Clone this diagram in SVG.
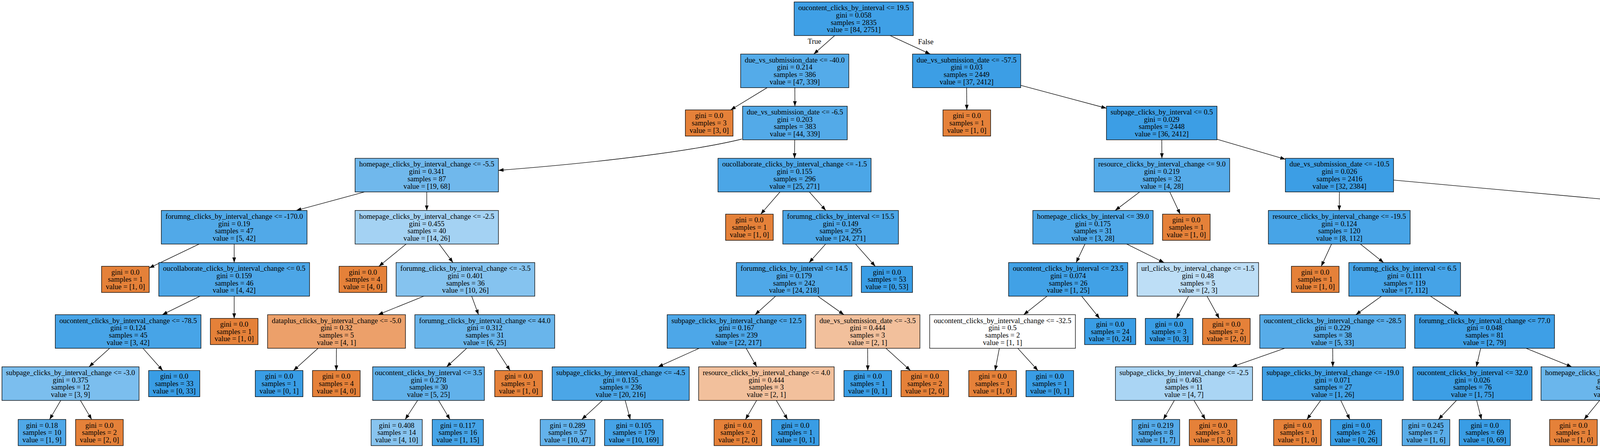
<svg xmlns="http://www.w3.org/2000/svg" width="6463" height="1144" viewBox="0 0 6463 1144">
<style>
.nd rect{stroke:#000;stroke-width:1.33}
text{font-family:"Liberation Serif","Times New Roman",serif;font-size:18.67px;text-anchor:middle;fill:#000}
.o{fill:#e58139}.b{fill:#399de5}
.e{stroke:#000;stroke-width:1.33;fill:none;marker-end:url(#ah)}
</style>
<defs><marker id="ah" markerUnits="userSpaceOnUse" viewBox="0 0 13 9.4" refX="13" refY="4.7" markerWidth="13" markerHeight="9.4" orient="auto"><path d="M0,0 L13,4.7 L0,9.4 z" fill="#000"/></marker></defs>
<rect width="6463" height="1144" fill="#fff"/>
<g id="connectors">
<line class="e" x1="2136.8" y1="91" x2="2083.2" y2="138.4"/>
<line class="e" x1="2278.6" y1="91" x2="2381.4" y2="138.4"/>
<line class="e" x1="1963.9" y1="224.4" x2="1870.5" y2="281.3"/>
<line class="e" x1="2034.7" y1="224.4" x2="2035" y2="271.8"/>
<line class="e" x1="2474.5" y1="224.4" x2="2475" y2="281.3"/>
<line class="e" x1="2613" y1="218.4" x2="2832.5" y2="277"/>
<path class="e" d="M1899,356 C1780,385 1550,415 1276,436"/>
<line class="e" x1="2034.5" y1="357.8" x2="2034" y2="405.2"/>
<line class="e" x1="2974.2" y1="357.8" x2="2974.5" y2="405.2"/>
<line class="e" x1="3115.5" y1="356.3" x2="3290.5" y2="407.6"/>
<line class="e" x1="933.6" y1="491.2" x2="758.4" y2="538.6"/>
<line class="e" x1="1092.5" y1="491.2" x2="1092.5" y2="538.6"/>
<line class="e" x1="1996.8" y1="491.2" x2="1947.5" y2="548.1"/>
<line class="e" x1="2072" y1="491.2" x2="2114" y2="538.6"/>
<line class="e" x1="2917.6" y1="491.2" x2="2854.9" y2="538.6"/>
<line class="e" x1="2994.6" y1="491.2" x2="3021.3" y2="548.1"/>
<line class="e" x1="3428.8" y1="491.2" x2="3428.5" y2="538.6"/>
<line class="e" x1="3567.5" y1="460.8" x2="4750" y2="568.6"/>
<line class="e" x1="509.7" y1="624.6" x2="382" y2="685.8"/>
<line class="e" x1="599.5" y1="624.6" x2="599.5" y2="672"/>
<line class="e" x1="1039.8" y1="624.6" x2="970" y2="681.5"/>
<line class="e" x1="1124.4" y1="624.6" x2="1159.6" y2="672"/>
<line class="e" x1="2113.6" y1="624.6" x2="2071.4" y2="672"/>
<line class="e" x1="2190.2" y1="624.6" x2="2240.7" y2="681.5"/>
<line class="e" x1="2777.5" y1="624.6" x2="2755" y2="672"/>
<line class="e" x1="2884.5" y1="624.6" x2="2980" y2="672"/>
<line class="e" x1="3408.7" y1="624.6" x2="3382.4" y2="681.5"/>
<line class="e" x1="3482.5" y1="624.6" x2="3542" y2="672"/>
<line class="e" x1="4891.7" y1="624.6" x2="4891.5" y2="672"/>
<line class="e" x1="5034" y1="603.8" x2="5610" y2="694"/>
<line class="e" x1="512" y1="758" x2="415.5" y2="805.4"/>
<line class="e" x1="599.5" y1="758" x2="599.5" y2="814.9"/>
<line class="e" x1="1085.1" y1="758" x2="967.9" y2="805.4"/>
<line class="e" x1="1207.5" y1="758" x2="1225" y2="805.4"/>
<line class="e" x1="1985.5" y1="758" x2="1933" y2="805.4"/>
<line class="e" x1="2093.6" y1="758" x2="2160.4" y2="805.4"/>
<line class="e" x1="2680.4" y1="758" x2="2620.6" y2="805.4"/>
<line class="e" x1="2769.1" y1="758" x2="2815" y2="814.9"/>
<line class="e" x1="3042.8" y1="758" x2="3011.5" y2="814.9"/>
<line class="e" x1="3090" y1="758" x2="3121.2" y2="814.9"/>
<line class="e" x1="3536.5" y1="758" x2="3471" y2="805.4"/>
<line class="e" x1="3661.9" y1="758" x2="3734.6" y2="805.4"/>
<line class="e" x1="4837.5" y1="758" x2="4778" y2="805.4"/>
<line class="e" x1="4946.1" y1="758" x2="5006.4" y2="805.4"/>
<line class="e" x1="5744" y1="758" x2="5744" y2="805.4"/>
<line class="e" x1="5874" y1="758" x2="6017.6" y2="805.4"/>
<line class="e" x1="280.5" y1="891.4" x2="228" y2="938.8"/>
<line class="e" x1="366" y1="891.4" x2="416.4" y2="948.3"/>
<line class="e" x1="814.1" y1="891.4" x2="751.4" y2="948.3"/>
<line class="e" x1="861.3" y1="891.4" x2="861" y2="948.3"/>
<line class="e" x1="1194.6" y1="891.4" x2="1143.4" y2="938.8"/>
<line class="e" x1="1268.9" y1="891.4" x2="1305.8" y2="948.3"/>
<line class="e" x1="1789.9" y1="891.4" x2="1684.6" y2="938.8"/>
<line class="e" x1="1910.2" y1="891.4" x2="1937.3" y2="938.8"/>
<line class="e" x1="2221.2" y1="891.4" x2="2221.5" y2="948.3"/>
<line class="e" x1="2268.2" y1="891.4" x2="2330.7" y2="948.3"/>
<line class="e" x1="2558.3" y1="891.4" x2="2547.4" y2="948.3"/>
<line class="e" x1="2605.5" y1="891.4" x2="2657.1" y2="948.3"/>
<line class="e" x1="3288.9" y1="891.4" x2="3153.6" y2="938.8"/>
<line class="e" x1="3411.7" y1="891.4" x2="3412" y2="938.8"/>
<line class="e" x1="3790.5" y1="891.4" x2="3779.5" y2="938.8"/>
<line class="e" x1="3906.7" y1="891.4" x2="4023.8" y2="938.8"/>
<line class="e" x1="4659.1" y1="891.4" x2="4587.4" y2="938.8"/>
<line class="e" x1="4744.9" y1="891.4" x2="4772.7" y2="948.3"/>
<line class="e" x1="5040" y1="891.4" x2="5017" y2="938.8"/>
<line class="e" x1="5137.2" y1="891.4" x2="5221.3" y2="938.8"/>
<line class="e" x1="5713.9" y1="891.4" x2="5680.6" y2="938.8"/>
<line class="e" x1="5797.2" y1="891.4" x2="5867.6" y2="948.3"/>
<line class="e" x1="6147.6" y1="891.4" x2="6147.6" y2="938.8"/>
<line class="e" x1="6226.4" y1="891.4" x2="6330.6" y2="948.3"/>
<line class="e" x1="155.4" y1="1024.8" x2="127" y2="1073.5"/>
<line class="e" x1="205.9" y1="1024.8" x2="234.7" y2="1073.5"/>
<line class="e" x1="1069" y1="1024.8" x2="1037.3" y2="1073.5"/>
<line class="e" x1="1122.8" y1="1024.8" x2="1151.9" y2="1073.5"/>
<line class="e" x1="1542.3" y1="1024.8" x2="1489.4" y2="1073.5"/>
<line class="e" x1="1600.5" y1="1024.8" x2="1613.5" y2="1073.5"/>
<line class="e" x1="1936.9" y1="1024.8" x2="1908.5" y2="1073.5"/>
<line class="e" x1="1987.4" y1="1024.8" x2="2016.2" y2="1073.5"/>
<line class="e" x1="3006.3" y1="1024.8" x2="2978.3" y2="1073.5"/>
<line class="e" x1="3056.6" y1="1024.8" x2="3085.6" y2="1073.5"/>
<line class="e" x1="3380.9" y1="1024.8" x2="3345.7" y2="1073.5"/>
<line class="e" x1="3432.4" y1="1024.8" x2="3455.6" y2="1073.5"/>
<line class="e" x1="3728.6" y1="1024.8" x2="3682.3" y2="1073.5"/>
<line class="e" x1="3780.3" y1="1024.8" x2="3792.6" y2="1073.5"/>
<line class="e" x1="4095" y1="1024.8" x2="4055.3" y2="1073.5"/>
<line class="e" x1="4145.1" y1="1024.8" x2="4162.2" y2="1073.5"/>
<line class="e" x1="4490.7" y1="1024.8" x2="4454.8" y2="1073.5"/>
<line class="e" x1="4544.5" y1="1024.8" x2="4569.4" y2="1073.5"/>
<line class="e" x1="4960.3" y1="1024.8" x2="4919.5" y2="1073.5"/>
<line class="e" x1="5020" y1="1024.8" x2="5047.2" y2="1073.5"/>
<line class="e" x1="5285.3" y1="1024.8" x2="5271.5" y2="1073.5"/>
<line class="e" x1="5337" y1="1024.8" x2="5381.7" y2="1073.5"/>
<line class="e" x1="5641.7" y1="1024.8" x2="5631.8" y2="1073.5"/>
<line class="e" x1="5693.6" y1="1024.8" x2="5742.4" y2="1073.5"/>
<line class="e" x1="6122.5" y1="1024.8" x2="6094.1" y2="1073.5"/>
<line class="e" x1="6172.8" y1="1024.8" x2="6201.4" y2="1073.5"/>
<text x="2085" y="111.7">True</text>
<text x="2370" y="113.3">False</text>
</g>
<g id="n0" class="nd"><rect x="2033" y="5" width="305" height="86" fill="#3fa0e6"/><text x="2185.5" y="26.2">oucontent_clicks_by_interval &lt;= 19.5<tspan x="2185.5" dy="18.7">gini = 0.058</tspan><tspan x="2185.5" dy="18.7">samples = 2835</tspan><tspan x="2185.5" dy="18.7">value = [84, 2751]</tspan></text></g>
<g id="n1" class="nd"><rect x="1896" y="138.4" width="277" height="86" fill="#54abe9"/><text x="2034.5" y="159.6">due_vs_submission_date &lt;= -40.0<tspan x="2034.5" dy="18.7">gini = 0.214</tspan><tspan x="2034.5" dy="18.7">samples = 386</tspan><tspan x="2034.5" dy="18.7">value = [47, 339]</tspan></text></g>
<g id="n2" class="nd"><rect x="2336" y="138.4" width="277" height="86" fill="#3c9ee5"/><text x="2474.5" y="159.6">due_vs_submission_date &lt;= -57.5<tspan x="2474.5" dy="18.7">gini = 0.03</tspan><tspan x="2474.5" dy="18.7">samples = 2449</tspan><tspan x="2474.5" dy="18.7">value = [37, 2412]</tspan></text></g>
<g id="n3" class="nd"><rect class="o" x="1754.5" y="281.3" width="122" height="67"/><text x="1815.5" y="302.4">gini = 0.0<tspan x="1815.5" dy="18.7">samples = 3</tspan><tspan x="1815.5" dy="18.7">value = [3, 0]</tspan></text></g>
<g id="n4" class="nd"><rect x="1901" y="271.8" width="268" height="86" fill="#53aae8"/><text x="2035" y="293">due_vs_submission_date &lt;= -6.5<tspan x="2035" dy="18.7">gini = 0.203</tspan><tspan x="2035" dy="18.7">samples = 383</tspan><tspan x="2035" dy="18.7">value = [44, 339]</tspan></text></g>
<g id="n5" class="nd"><rect class="o" x="2414" y="281.3" width="122" height="67"/><text x="2475" y="302.4">gini = 0.0<tspan x="2475" dy="18.7">samples = 1</tspan><tspan x="2475" dy="18.7">value = [1, 0]</tspan></text></g>
<g id="n6" class="nd"><rect x="2832.5" y="271.8" width="283" height="86" fill="#3c9ee5"/><text x="2974" y="293">subpage_clicks_by_interval &lt;= 0.5<tspan x="2974" dy="18.7">gini = 0.029</tspan><tspan x="2974" dy="18.7">samples = 2448</tspan><tspan x="2974" dy="18.7">value = [36, 2412]</tspan></text></g>
<g id="n7" class="nd"><rect x="909" y="405.2" width="367" height="86" fill="#70b8ec"/><text x="1092.5" y="426.4">homepage_clicks_by_interval_change &lt;= -5.5<tspan x="1092.5" dy="18.7">gini = 0.341</tspan><tspan x="1092.5" dy="18.7">samples = 87</tspan><tspan x="1092.5" dy="18.7">value = [19, 68]</tspan></text></g>
<g id="n8" class="nd"><rect x="1838" y="405.2" width="392" height="86" fill="#4ba6e7"/><text x="2034" y="426.4">oucollaborate_clicks_by_interval_change &lt;= -1.5<tspan x="2034" dy="18.7">gini = 0.155</tspan><tspan x="2034" dy="18.7">samples = 296</tspan><tspan x="2034" dy="18.7">value = [25, 271]</tspan></text></g>
<g id="n9" class="nd"><rect x="2801" y="405.2" width="347" height="86" fill="#55abe9"/><text x="2974.5" y="426.4">resource_clicks_by_interval_change &lt;= 9.0<tspan x="2974.5" dy="18.7">gini = 0.219</tspan><tspan x="2974.5" dy="18.7">samples = 32</tspan><tspan x="2974.5" dy="18.7">value = [4, 28]</tspan></text></g>
<g id="n10" class="nd"><rect x="3290.5" y="405.2" width="277" height="86" fill="#3c9ee5"/><text x="3429" y="426.4">due_vs_submission_date &lt;= -10.5<tspan x="3429" dy="18.7">gini = 0.026</tspan><tspan x="3429" dy="18.7">samples = 2416</tspan><tspan x="3429" dy="18.7">value = [32, 2384]</tspan></text></g>
<g id="n11" class="nd"><rect x="413" y="538.6" width="373" height="86" fill="#51a9e8"/><text x="599.5" y="559.8">forumng_clicks_by_interval_change &lt;= -170.0<tspan x="599.5" dy="18.7">gini = 0.19</tspan><tspan x="599.5" dy="18.7">samples = 47</tspan><tspan x="599.5" dy="18.7">value = [5, 42]</tspan></text></g>
<g id="n12" class="nd"><rect x="909" y="538.6" width="367" height="86" fill="#a4d2f3"/><text x="1092.5" y="559.8">homepage_clicks_by_interval_change &lt;= -2.5<tspan x="1092.5" dy="18.7">gini = 0.455</tspan><tspan x="1092.5" dy="18.7">samples = 40</tspan><tspan x="1092.5" dy="18.7">value = [14, 26]</tspan></text></g>
<g id="n13" class="nd"><rect class="o" x="1857.5" y="548.1" width="122" height="67"/><text x="1918.5" y="569.2">gini = 0.0<tspan x="1918.5" dy="18.7">samples = 1</tspan><tspan x="1918.5" dy="18.7">value = [1, 0]</tspan></text></g>
<g id="n14" class="nd"><rect x="2004" y="538.6" width="296" height="86" fill="#4ba6e7"/><text x="2152" y="559.8">forumng_clicks_by_interval &lt;= 15.5<tspan x="2152" dy="18.7">gini = 0.149</tspan><tspan x="2152" dy="18.7">samples = 295</tspan><tspan x="2152" dy="18.7">value = [24, 271]</tspan></text></g>
<g id="n15" class="nd"><rect x="2644" y="538.6" width="308" height="86" fill="#4ea8e8"/><text x="2798" y="559.8">homepage_clicks_by_interval &lt;= 39.0<tspan x="2798" dy="18.7">gini = 0.175</tspan><tspan x="2798" dy="18.7">samples = 31</tspan><tspan x="2798" dy="18.7">value = [3, 28]</tspan></text></g>
<g id="n16" class="nd"><rect class="o" x="2976" y="548.1" width="122" height="67"/><text x="3037" y="569.2">gini = 0.0<tspan x="3037" dy="18.7">samples = 1</tspan><tspan x="3037" dy="18.7">value = [1, 0]</tspan></text></g>
<g id="n17" class="nd"><rect x="3247" y="538.6" width="363" height="86" fill="#47a4e7"/><text x="3428.5" y="559.8">resource_clicks_by_interval_change &lt;= -19.5<tspan x="3428.5" dy="18.7">gini = 0.124</tspan><tspan x="3428.5" dy="18.7">samples = 120</tspan><tspan x="3428.5" dy="18.7">value = [8, 112]</tspan></text></g>
<g id="n18" class="nd"><rect x="4750" y="538.6" width="284" height="86" fill="#3b9ee5"/><text x="4892" y="559.8">glossary_clicks_by_interval &lt;= 0.5<tspan x="4892" dy="18.7">gini = 0.021</tspan><tspan x="4892" dy="18.7">samples = 2296</tspan><tspan x="4892" dy="18.7">value = [24, 2272]</tspan></text></g>
<g id="n19" class="nd"><rect class="o" x="260" y="681.5" width="122" height="67"/><text x="321" y="702.6">gini = 0.0<tspan x="321" dy="18.7">samples = 1</tspan><tspan x="321" dy="18.7">value = [1, 0]</tspan></text></g>
<g id="n20" class="nd"><rect x="406.5" y="672" width="386" height="86" fill="#4ca6e7"/><text x="599.5" y="693.2">oucollaborate_clicks_by_interval_change &lt;= 0.5<tspan x="599.5" dy="18.7">gini = 0.159</tspan><tspan x="599.5" dy="18.7">samples = 46</tspan><tspan x="599.5" dy="18.7">value = [4, 42]</tspan></text></g>
<g id="n21" class="nd"><rect class="o" x="868" y="681.5" width="122" height="67"/><text x="929" y="702.6">gini = 0.0<tspan x="929" dy="18.7">samples = 4</tspan><tspan x="929" dy="18.7">value = [4, 0]</tspan></text></g>
<g id="n22" class="nd"><rect x="1014" y="672" width="355" height="86" fill="#85c3ef"/><text x="1191.5" y="693.2">forumng_clicks_by_interval_change &lt;= -3.5<tspan x="1191.5" dy="18.7">gini = 0.401</tspan><tspan x="1191.5" dy="18.7">samples = 36</tspan><tspan x="1191.5" dy="18.7">value = [10, 26]</tspan></text></g>
<g id="n23" class="nd"><rect x="1885" y="672" width="296" height="86" fill="#4fa8e8"/><text x="2033" y="693.2">forumng_clicks_by_interval &lt;= 14.5<tspan x="2033" dy="18.7">gini = 0.179</tspan><tspan x="2033" dy="18.7">samples = 242</tspan><tspan x="2033" dy="18.7">value = [24, 218]</tspan></text></g>
<g id="n24" class="nd"><rect class="b" x="2205" y="681.5" width="131" height="67"/><text x="2270.5" y="702.6">gini = 0.0<tspan x="2270.5" dy="18.7">samples = 53</tspan><tspan x="2270.5" dy="18.7">value = [0, 53]</tspan></text></g>
<g id="n25" class="nd"><rect x="2582" y="672" width="305" height="86" fill="#41a1e6"/><text x="2734.5" y="693.2">oucontent_clicks_by_interval &lt;= 23.5<tspan x="2734.5" dy="18.7">gini = 0.074</tspan><tspan x="2734.5" dy="18.7">samples = 26</tspan><tspan x="2734.5" dy="18.7">value = [1, 25]</tspan></text></g>
<g id="n26" class="nd"><rect x="2911" y="672" width="311" height="86" fill="#bddef6"/><text x="3066.5" y="693.2">url_clicks_by_interval_change &lt;= -1.5<tspan x="3066.5" dy="18.7">gini = 0.48</tspan><tspan x="3066.5" dy="18.7">samples = 5</tspan><tspan x="3066.5" dy="18.7">value = [2, 3]</tspan></text></g>
<g id="n27" class="nd"><rect class="o" x="3306" y="681.5" width="122" height="67"/><text x="3367" y="702.6">gini = 0.0<tspan x="3367" dy="18.7">samples = 1</tspan><tspan x="3367" dy="18.7">value = [1, 0]</tspan></text></g>
<g id="n28" class="nd"><rect x="3453" y="672" width="286" height="86" fill="#45a3e7"/><text x="3596" y="693.2">forumng_clicks_by_interval &lt;= 6.5<tspan x="3596" dy="18.7">gini = 0.111</tspan><tspan x="3596" dy="18.7">samples = 119</tspan><tspan x="3596" dy="18.7">value = [7, 112]</tspan></text></g>
<g id="n29" class="nd"><rect x="4739" y="672" width="305" height="86" fill="#3b9ee5"/><text x="4891.5" y="693.2">oucontent_clicks_by_interval &lt;= 29.5<tspan x="4891.5" dy="18.7">gini = 0.018</tspan><tspan x="4891.5" dy="18.7">samples = 2216</tspan><tspan x="4891.5" dy="18.7">value = [20, 2196]</tspan></text></g>
<g id="n30" class="nd"><rect x="5610" y="672" width="268" height="86" fill="#43a2e6"/><text x="5744" y="693.2">due_vs_submission_date &lt;= -2.5<tspan x="5744" dy="18.7">gini = 0.095</tspan><tspan x="5744" dy="18.7">samples = 80</tspan><tspan x="5744" dy="18.7">value = [4, 76]</tspan></text></g>
<g id="n31" class="nd"><rect x="141.5" y="805.4" width="373" height="86" fill="#47a4e7"/><text x="328" y="826.6">oucontent_clicks_by_interval_change &lt;= -78.5<tspan x="328" dy="18.7">gini = 0.124</tspan><tspan x="328" dy="18.7">samples = 45</tspan><tspan x="328" dy="18.7">value = [3, 42]</tspan></text></g>
<g id="n32" class="nd"><rect class="o" x="538.5" y="814.9" width="122" height="67"/><text x="599.5" y="836">gini = 0.0<tspan x="599.5" dy="18.7">samples = 1</tspan><tspan x="599.5" dy="18.7">value = [1, 0]</tspan></text></g>
<g id="n33" class="nd"><rect x="685" y="805.4" width="353" height="86" fill="#eca06a"/><text x="861.5" y="826.6">dataplus_clicks_by_interval_change &lt;= -5.0<tspan x="861.5" dy="18.7">gini = 0.32</tspan><tspan x="861.5" dy="18.7">samples = 5</tspan><tspan x="861.5" dy="18.7">value = [4, 1]</tspan></text></g>
<g id="n34" class="nd"><rect x="1062" y="805.4" width="358" height="86" fill="#69b5eb"/><text x="1241" y="826.6">forumng_clicks_by_interval_change &lt;= 44.0<tspan x="1241" dy="18.7">gini = 0.312</tspan><tspan x="1241" dy="18.7">samples = 31</tspan><tspan x="1241" dy="18.7">value = [6, 25]</tspan></text></g>
<g id="n35" class="nd"><rect x="1708" y="805.4" width="355" height="86" fill="#4da7e8"/><text x="1885.5" y="826.6">subpage_clicks_by_interval_change &lt;= 12.5<tspan x="1885.5" dy="18.7">gini = 0.167</tspan><tspan x="1885.5" dy="18.7">samples = 239</tspan><tspan x="1885.5" dy="18.7">value = [22, 217]</tspan></text></g>
<g id="n36" class="nd"><rect x="2087" y="805.4" width="268" height="86" fill="#f2c09c"/><text x="2221" y="826.6">due_vs_submission_date &lt;= -3.5<tspan x="2221" dy="18.7">gini = 0.444</tspan><tspan x="2221" dy="18.7">samples = 3</tspan><tspan x="2221" dy="18.7">value = [2, 1]</tspan></text></g>
<g id="n37" class="nd"><rect x="2380" y="805.4" width="373" height="86" fill="#ffffff"/><text x="2566.5" y="826.6">oucontent_clicks_by_interval_change &lt;= -32.5<tspan x="2566.5" dy="18.7">gini = 0.5</tspan><tspan x="2566.5" dy="18.7">samples = 2</tspan><tspan x="2566.5" dy="18.7">value = [1, 1]</tspan></text></g>
<g id="n38" class="nd"><rect class="b" x="2776.5" y="814.9" width="131" height="67"/><text x="2842" y="836">gini = 0.0<tspan x="2842" dy="18.7">samples = 24</tspan><tspan x="2842" dy="18.7">value = [0, 24]</tspan></text></g>
<g id="n39" class="nd"><rect class="b" x="2932" y="814.9" width="122" height="67"/><text x="2993" y="836">gini = 0.0<tspan x="2993" dy="18.7">samples = 3</tspan><tspan x="2993" dy="18.7">value = [0, 3]</tspan></text></g>
<g id="n40" class="nd"><rect class="o" x="3078.5" y="814.9" width="122" height="67"/><text x="3139.5" y="836">gini = 0.0<tspan x="3139.5" dy="18.7">samples = 2</tspan><tspan x="3139.5" dy="18.7">value = [2, 0]</tspan></text></g>
<g id="n41" class="nd"><rect x="3225" y="805.4" width="373" height="86" fill="#57ace9"/><text x="3411.5" y="826.6">oucontent_clicks_by_interval_change &lt;= -28.5<tspan x="3411.5" dy="18.7">gini = 0.229</tspan><tspan x="3411.5" dy="18.7">samples = 38</tspan><tspan x="3411.5" dy="18.7">value = [5, 33]</tspan></text></g>
<g id="n42" class="nd"><rect x="3621.5" y="805.4" width="358" height="86" fill="#3e9fe6"/><text x="3800.5" y="826.6">forumng_clicks_by_interval_change &lt;= 77.0<tspan x="3800.5" dy="18.7">gini = 0.048</tspan><tspan x="3800.5" dy="18.7">samples = 81</tspan><tspan x="3800.5" dy="18.7">value = [2, 79]</tspan></text></g>
<g id="n43" class="nd"><rect x="4545.5" y="805.4" width="357" height="86" fill="#41a1e6"/><text x="4724" y="826.6">resource_clicks_by_interval_change &lt;= 11.5<tspan x="4724" dy="18.7">gini = 0.074</tspan><tspan x="4724" dy="18.7">samples = 130</tspan><tspan x="4724" dy="18.7">value = [5, 125]</tspan></text></g>
<g id="n44" class="nd"><rect x="4925.5" y="805.4" width="271" height="86" fill="#3a9ee5"/><text x="5061" y="826.6">due_vs_submission_date &lt;= 31.5<tspan x="5061" dy="18.7">gini = 0.014</tspan><tspan x="5061" dy="18.7">samples = 2086</tspan><tspan x="5061" dy="18.7">value = [15, 2071]</tspan></text></g>
<g id="n45" class="nd"><rect x="5610" y="805.4" width="268" height="86" fill="#61b1ea"/><text x="5744" y="826.6">due_vs_submission_date &lt;= -3.5<tspan x="5744" dy="18.7">gini = 0.278</tspan><tspan x="5744" dy="18.7">samples = 18</tspan><tspan x="5744" dy="18.7">value = [3, 15]</tspan></text></g>
<g id="n46" class="nd"><rect x="5993.6" y="805.4" width="308" height="86" fill="#3c9fe5"/><text x="6147.6" y="826.6">homepage_clicks_by_interval &lt;= 20.5<tspan x="6147.6" dy="18.7">gini = 0.032</tspan><tspan x="6147.6" dy="18.7">samples = 62</tspan><tspan x="6147.6" dy="18.7">value = [1, 61]</tspan></text></g>
<g id="n47" class="nd"><rect x="5" y="938.8" width="351" height="86" fill="#7bbeee"/><text x="180.5" y="960">subpage_clicks_by_interval_change &lt;= -3.0<tspan x="180.5" dy="18.7">gini = 0.375</tspan><tspan x="180.5" dy="18.7">samples = 12</tspan><tspan x="180.5" dy="18.7">value = [3, 9]</tspan></text></g>
<g id="n48" class="nd"><rect class="b" x="380.5" y="948.3" width="131" height="67"/><text x="446" y="969.4">gini = 0.0<tspan x="446" dy="18.7">samples = 33</tspan><tspan x="446" dy="18.7">value = [0, 33]</tspan></text></g>
<g id="n49" class="nd"><rect class="b" x="653.5" y="948.3" width="122" height="67"/><text x="714.5" y="969.4">gini = 0.0<tspan x="714.5" dy="18.7">samples = 1</tspan><tspan x="714.5" dy="18.7">value = [0, 1]</tspan></text></g>
<g id="n50" class="nd"><rect class="o" x="800" y="948.3" width="122" height="67"/><text x="861" y="969.4">gini = 0.0<tspan x="861" dy="18.7">samples = 4</tspan><tspan x="861" dy="18.7">value = [4, 0]</tspan></text></g>
<g id="n51" class="nd"><rect x="954" y="938.8" width="286" height="86" fill="#61b1ea"/><text x="1097" y="960">oucontent_clicks_by_interval &lt;= 3.5<tspan x="1097" dy="18.7">gini = 0.278</tspan><tspan x="1097" dy="18.7">samples = 30</tspan><tspan x="1097" dy="18.7">value = [5, 25]</tspan></text></g>
<g id="n52" class="nd"><rect class="o" x="1266.5" y="948.3" width="122" height="67"/><text x="1327.5" y="969.4">gini = 0.0<tspan x="1327.5" dy="18.7">samples = 1</tspan><tspan x="1327.5" dy="18.7">value = [1, 0]</tspan></text></g>
<g id="n53" class="nd"><rect x="1413.5" y="938.8" width="351" height="86" fill="#4ba6e7"/><text x="1589" y="960">subpage_clicks_by_interval_change &lt;= -4.5<tspan x="1589" dy="18.7">gini = 0.155</tspan><tspan x="1589" dy="18.7">samples = 236</tspan><tspan x="1589" dy="18.7">value = [20, 216]</tspan></text></g>
<g id="n54" class="nd"><rect x="1788.5" y="938.8" width="347" height="86" fill="#f2c09c"/><text x="1962" y="960">resource_clicks_by_interval_change &lt;= 4.0<tspan x="1962" dy="18.7">gini = 0.444</tspan><tspan x="1962" dy="18.7">samples = 3</tspan><tspan x="1962" dy="18.7">value = [2, 1]</tspan></text></g>
<g id="n55" class="nd"><rect class="b" x="2160.5" y="948.3" width="122" height="67"/><text x="2221.5" y="969.4">gini = 0.0<tspan x="2221.5" dy="18.7">samples = 1</tspan><tspan x="2221.5" dy="18.7">value = [0, 1]</tspan></text></g>
<g id="n56" class="nd"><rect class="o" x="2306.5" y="948.3" width="122" height="67"/><text x="2367.5" y="969.4">gini = 0.0<tspan x="2367.5" dy="18.7">samples = 2</tspan><tspan x="2367.5" dy="18.7">value = [2, 0]</tspan></text></g>
<g id="n57" class="nd"><rect class="o" x="2480" y="948.3" width="122" height="67"/><text x="2541" y="969.4">gini = 0.0<tspan x="2541" dy="18.7">samples = 1</tspan><tspan x="2541" dy="18.7">value = [1, 0]</tspan></text></g>
<g id="n58" class="nd"><rect class="b" x="2626.5" y="948.3" width="122" height="67"/><text x="2687.5" y="969.4">gini = 0.0<tspan x="2687.5" dy="18.7">samples = 1</tspan><tspan x="2687.5" dy="18.7">value = [0, 1]</tspan></text></g>
<g id="n59" class="nd"><rect x="2855.5" y="938.8" width="351" height="86" fill="#aad5f4"/><text x="3031" y="960">subpage_clicks_by_interval_change &lt;= -2.5<tspan x="3031" dy="18.7">gini = 0.463</tspan><tspan x="3031" dy="18.7">samples = 11</tspan><tspan x="3031" dy="18.7">value = [4, 7]</tspan></text></g>
<g id="n60" class="nd"><rect x="3231.5" y="938.8" width="361" height="86" fill="#41a1e6"/><text x="3412" y="960">subpage_clicks_by_interval_change &lt;= -19.0<tspan x="3412" dy="18.7">gini = 0.071</tspan><tspan x="3412" dy="18.7">samples = 27</tspan><tspan x="3412" dy="18.7">value = [1, 26]</tspan></text></g>
<g id="n61" class="nd"><rect x="3617" y="938.8" width="305" height="86" fill="#3c9ee5"/><text x="3769.5" y="960">oucontent_clicks_by_interval &lt;= 32.0<tspan x="3769.5" dy="18.7">gini = 0.026</tspan><tspan x="3769.5" dy="18.7">samples = 76</tspan><tspan x="3769.5" dy="18.7">value = [1, 75]</tspan></text></g>
<g id="n62" class="nd"><rect x="3945" y="938.8" width="370" height="86" fill="#6ab6ec"/><text x="4130" y="960">homepage_clicks_by_interval_change &lt;= 31.5<tspan x="4130" dy="18.7">gini = 0.32</tspan><tspan x="4130" dy="18.7">samples = 5</tspan><tspan x="4130" dy="18.7">value = [1, 4]</tspan></text></g>
<g id="n63" class="nd"><rect x="4340.5" y="938.8" width="364" height="86" fill="#3fa0e6"/><text x="4522.5" y="960">forumng_clicks_by_interval_change &lt;= -80.0<tspan x="4522.5" dy="18.7">gini = 0.06</tspan><tspan x="4522.5" dy="18.7">samples = 129</tspan><tspan x="4522.5" dy="18.7">value = [4, 125]</tspan></text></g>
<g id="n64" class="nd"><rect class="o" x="4728" y="948.3" width="122" height="67"/><text x="4789" y="969.4">gini = 0.0<tspan x="4789" dy="18.7">samples = 1</tspan><tspan x="4789" dy="18.7">value = [1, 0]</tspan></text></g>
<g id="n65" class="nd"><rect x="4874" y="938.8" width="244" height="86" fill="#3a9ee5"/><text x="4996" y="960">url_clicks_by_interval &lt;= 1.5<tspan x="4996" dy="18.7">gini = 0.013</tspan><tspan x="4996" dy="18.7">samples = 2074</tspan><tspan x="4996" dy="18.7">value = [14, 2060]</tspan></text></g>
<g id="n66" class="nd"><rect x="5142" y="938.8" width="311" height="86" fill="#4ba6e7"/><text x="5297.5" y="960">url_clicks_by_interval_change &lt;= -8.5<tspan x="5297.5" dy="18.7">gini = 0.153</tspan><tspan x="5297.5" dy="18.7">samples = 12</tspan><tspan x="5297.5" dy="18.7">value = [1, 11]</tspan></text></g>
<g id="n67" class="nd"><rect x="5477.5" y="938.8" width="346" height="86" fill="#46a4e7"/><text x="5650.5" y="960">glossary_clicks_by_interval_change &lt;= 0.5<tspan x="5650.5" dy="18.7">gini = 0.117</tspan><tspan x="5650.5" dy="18.7">samples = 16</tspan><tspan x="5650.5" dy="18.7">value = [1, 15]</tspan></text></g>
<g id="n68" class="nd"><rect class="o" x="5848" y="948.3" width="122" height="67"/><text x="5909" y="969.4">gini = 0.0<tspan x="5909" dy="18.7">samples = 2</tspan><tspan x="5909" dy="18.7">value = [2, 0]</tspan></text></g>
<g id="n69" class="nd"><rect x="5993.6" y="938.8" width="308" height="86" fill="#7bbeee"/><text x="6147.6" y="960">homepage_clicks_by_interval &lt;= 18.5<tspan x="6147.6" dy="18.7">gini = 0.375</tspan><tspan x="6147.6" dy="18.7">samples = 4</tspan><tspan x="6147.6" dy="18.7">value = [1, 3]</tspan></text></g>
<g id="n70" class="nd"><rect class="b" x="6326.5" y="948.3" width="131" height="67"/><text x="6392" y="969.4">gini = 0.0<tspan x="6392" dy="18.7">samples = 58</tspan><tspan x="6392" dy="18.7">value = [0, 58]</tspan></text></g>
<g id="n71" class="nd"><rect x="46.5" y="1073.5" width="122" height="67" fill="#4fa8e8"/><text x="107.5" y="1094.6">gini = 0.18<tspan x="107.5" dy="18.7">samples = 10</tspan><tspan x="107.5" dy="18.7">value = [1, 9]</tspan></text></g>
<g id="n72" class="nd"><rect class="o" x="193.5" y="1073.5" width="122" height="67"/><text x="254.5" y="1094.6">gini = 0.0<tspan x="254.5" dy="18.7">samples = 2</tspan><tspan x="254.5" dy="18.7">value = [2, 0]</tspan></text></g>
<g id="n73" class="nd"><rect x="950" y="1073.5" width="131" height="67" fill="#88c4ef"/><text x="1015.5" y="1094.6">gini = 0.408<tspan x="1015.5" dy="18.7">samples = 14</tspan><tspan x="1015.5" dy="18.7">value = [4, 10]</tspan></text></g>
<g id="n74" class="nd"><rect x="1106.5" y="1073.5" width="131" height="67" fill="#46a4e7"/><text x="1172" y="1094.6">gini = 0.117<tspan x="1172" dy="18.7">samples = 16</tspan><tspan x="1172" dy="18.7">value = [1, 15]</tspan></text></g>
<g id="n75" class="nd"><rect x="1383" y="1073.5" width="140" height="67" fill="#63b2eb"/><text x="1453" y="1094.6">gini = 0.289<tspan x="1453" dy="18.7">samples = 57</tspan><tspan x="1453" dy="18.7">value = [10, 47]</tspan></text></g>
<g id="n76" class="nd"><rect x="1547.5" y="1073.5" width="150" height="67" fill="#45a3e7"/><text x="1622.5" y="1094.6">gini = 0.105<tspan x="1622.5" dy="18.7">samples = 179</tspan><tspan x="1622.5" dy="18.7">value = [10, 169]</tspan></text></g>
<g id="n77" class="nd"><rect class="o" x="1828" y="1073.5" width="122" height="67"/><text x="1889" y="1094.6">gini = 0.0<tspan x="1889" dy="18.7">samples = 2</tspan><tspan x="1889" dy="18.7">value = [2, 0]</tspan></text></g>
<g id="n78" class="nd"><rect class="b" x="1975" y="1073.5" width="122" height="67"/><text x="2036" y="1094.6">gini = 0.0<tspan x="2036" dy="18.7">samples = 1</tspan><tspan x="2036" dy="18.7">value = [0, 1]</tspan></text></g>
<g id="n79" class="nd"><rect x="2898" y="1073.5" width="122" height="67" fill="#55abe9"/><text x="2959" y="1094.6">gini = 0.219<tspan x="2959" dy="18.7">samples = 8</tspan><tspan x="2959" dy="18.7">value = [1, 7]</tspan></text></g>
<g id="n80" class="nd"><rect class="o" x="3044.5" y="1073.5" width="122" height="67"/><text x="3105.5" y="1094.6">gini = 0.0<tspan x="3105.5" dy="18.7">samples = 3</tspan><tspan x="3105.5" dy="18.7">value = [3, 0]</tspan></text></g>
<g id="n81" class="nd"><rect class="o" x="3260.5" y="1073.5" width="122" height="67"/><text x="3321.5" y="1094.6">gini = 0.0<tspan x="3321.5" dy="18.7">samples = 1</tspan><tspan x="3321.5" dy="18.7">value = [1, 0]</tspan></text></g>
<g id="n82" class="nd"><rect class="b" x="3406" y="1073.5" width="131" height="67"/><text x="3471.5" y="1094.6">gini = 0.0<tspan x="3471.5" dy="18.7">samples = 26</tspan><tspan x="3471.5" dy="18.7">value = [0, 26]</tspan></text></g>
<g id="n83" class="nd"><rect x="3589.5" y="1073.5" width="122" height="67" fill="#5aade9"/><text x="3650.5" y="1094.6">gini = 0.245<tspan x="3650.5" dy="18.7">samples = 7</tspan><tspan x="3650.5" dy="18.7">value = [1, 6]</tspan></text></g>
<g id="n84" class="nd"><rect class="b" x="3735.5" y="1073.5" width="131" height="67"/><text x="3801" y="1094.6">gini = 0.0<tspan x="3801" dy="18.7">samples = 69</tspan><tspan x="3801" dy="18.7">value = [0, 69]</tspan></text></g>
<g id="n85" class="nd"><rect class="o" x="3967" y="1073.5" width="122" height="67"/><text x="4028" y="1094.6">gini = 0.0<tspan x="4028" dy="18.7">samples = 1</tspan><tspan x="4028" dy="18.7">value = [1, 0]</tspan></text></g>
<g id="n86" class="nd"><rect class="b" x="4113" y="1073.5" width="122" height="67"/><text x="4174" y="1094.6">gini = 0.0<tspan x="4174" dy="18.7">samples = 4</tspan><tspan x="4174" dy="18.7">value = [0, 4]</tspan></text></g>
<g id="n87" class="nd"><rect x="4369" y="1073.5" width="122" height="67" fill="#9ccef2"/><text x="4430" y="1094.6">gini = 0.444<tspan x="4430" dy="18.7">samples = 3</tspan><tspan x="4430" dy="18.7">value = [1, 2]</tspan></text></g>
<g id="n88" class="nd"><rect x="4516.5" y="1073.5" width="140" height="67" fill="#3e9fe6"/><text x="4586.5" y="1094.6">gini = 0.046<tspan x="4586.5" dy="18.7">samples = 126</tspan><tspan x="4586.5" dy="18.7">value = [3, 123]</tspan></text></g>
<g id="n89" class="nd"><rect x="4816.5" y="1073.5" width="150" height="67" fill="#3c9fe5"/><text x="4891.5" y="1094.6">gini = 0.032<tspan x="4891.5" dy="18.7">samples = 619</tspan><tspan x="4891.5" dy="18.7">value = [10, 609]</tspan></text></g>
<g id="n90" class="nd"><rect x="4991" y="1073.5" width="150" height="67" fill="#3a9de5"/><text x="5066" y="1094.6">gini = 0.005<tspan x="5066" dy="18.7">samples = 1455</tspan><tspan x="5066" dy="18.7">value = [4, 1451]</tspan></text></g>
<g id="n91" class="nd"><rect class="o" x="5201" y="1073.5" width="122" height="67"/><text x="5262" y="1094.6">gini = 0.0<tspan x="5262" dy="18.7">samples = 1</tspan><tspan x="5262" dy="18.7">value = [1, 0]</tspan></text></g>
<g id="n92" class="nd"><rect class="b" x="5347" y="1073.5" width="131" height="67"/><text x="5412.5" y="1094.6">gini = 0.0<tspan x="5412.5" dy="18.7">samples = 11</tspan><tspan x="5412.5" dy="18.7">value = [0, 11]</tspan></text></g>
<g id="n93" class="nd"><rect class="o" x="5564" y="1073.5" width="122" height="67"/><text x="5625" y="1094.6">gini = 0.0<tspan x="5625" dy="18.7">samples = 1</tspan><tspan x="5625" dy="18.7">value = [1, 0]</tspan></text></g>
<g id="n94" class="nd"><rect class="b" x="5710.5" y="1073.5" width="131" height="67"/><text x="5776" y="1094.6">gini = 0.0<tspan x="5776" dy="18.7">samples = 15</tspan><tspan x="5776" dy="18.7">value = [0, 15]</tspan></text></g>
<g id="n95" class="nd"><rect class="b" x="6013.5" y="1073.5" width="122" height="67"/><text x="6074.5" y="1094.6">gini = 0.0<tspan x="6074.5" dy="18.7">samples = 3</tspan><tspan x="6074.5" dy="18.7">value = [0, 3]</tspan></text></g>
<g id="n96" class="nd"><rect class="o" x="6160" y="1073.5" width="122" height="67"/><text x="6221" y="1094.6">gini = 0.0<tspan x="6221" dy="18.7">samples = 1</tspan><tspan x="6221" dy="18.7">value = [1, 0]</tspan></text></g>
</svg>
